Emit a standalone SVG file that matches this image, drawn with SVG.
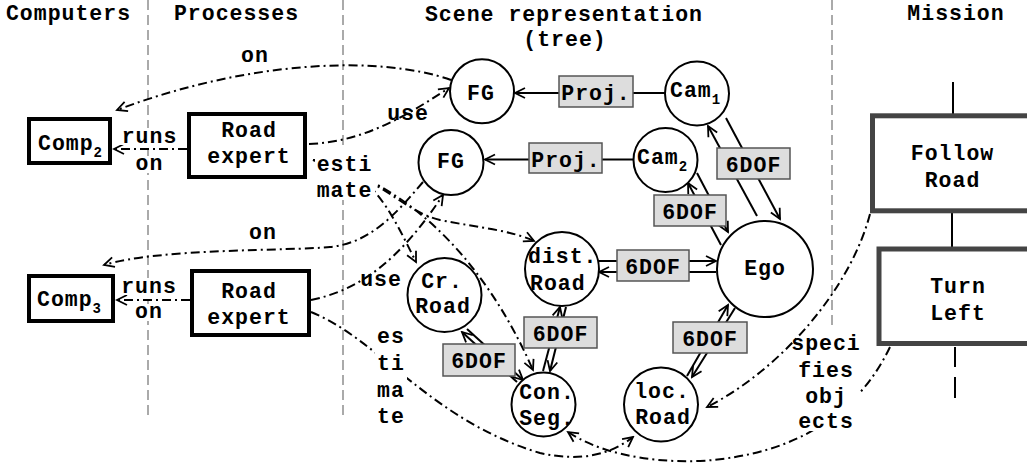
<svg xmlns="http://www.w3.org/2000/svg" width="1027" height="470" viewBox="0 0 1027 470">
<style>
.t{font-family:"Liberation Mono","Courier New",monospace;font-weight:bold;font-size:21.5px;letter-spacing:1px;fill:#000}
.m{text-anchor:middle}
.sub{font-size:14px;letter-spacing:0}
.node{fill:#fff;stroke:#000;stroke-width:2}
.box{fill:#fff;stroke:#000;stroke-width:4}
.mbox{fill:#fff;stroke:#444;stroke-width:5}
.lbl{fill:#ddd;stroke:#555;stroke-width:1.5}
.solid{fill:none;stroke:#000;stroke-width:2}
.dd{fill:none;stroke:#000;stroke-width:2;stroke-dasharray:9 4 2 4}
.div{stroke:#aaa;stroke-width:2;stroke-dasharray:10 5}
.bg{fill:#fff}
</style>
<defs>
<marker id="arr" markerUnits="userSpaceOnUse" markerWidth="14" markerHeight="14" viewBox="0 0 14 14" refX="12" refY="7" orient="auto">
<path d="M2,2 L12,7 L2,12" fill="none" stroke="#000" stroke-width="1.8" stroke-dasharray="none"/>
</marker>
</defs>
<rect width="1027" height="470" fill="#fff"/>
<g id="dividers">
<line class="div" x1="148" y1="0" x2="148" y2="415"/>
<line class="div" x1="343" y1="0" x2="343" y2="415"/>
<line class="div" x1="832" y1="0" x2="832" y2="330"/>
</g>
<g id="headers" class="t m">
<text x="68.5" y="20">Computers</text>
<text x="236.5" y="20">Processes</text>
<text x="564" y="21">Scene representation</text>
<text x="565" y="46">(tree)</text>
<text x="956" y="20">Mission</text>
</g>
<g id="connectors">
<!-- runs on -->
<path class="dd" d="M187,149 L114,149" marker-end="url(#arr)"/>
<path class="dd" d="M190,300 L117,300" marker-end="url(#arr)"/>
<!-- FG on computers -->
<path class="dd" d="M451,80 C380,55 250,60 117,110" marker-end="url(#arr)"/>
<path class="dd" d="M423,182 C395,215 370,243 330,247 S160,248 104,265" marker-end="url(#arr)"/>
<!-- use -->
<path class="dd" d="M309,144 C360,142 400,120 449,88" marker-end="url(#arr)"/>
<path class="dd" d="M311,300 C360,290 400,260 443,195" marker-end="url(#arr)"/>
<!-- estimate (top) -->
<path class="dd" d="M313,160 C370,165 390,210 416,262" marker-end="url(#arr)"/>
<path class="dd" d="M313,160 C400,180 480,250 533,370" marker-end="url(#arr)"/>
<path class="dd" d="M313,160 C380,175 400,210 440,220 C480,228 510,230 534,241" marker-end="url(#arr)"/>
<!-- estimate (bottom) -->
<path class="dd" d="M311,312 C380,340 430,420 540,453 C580,462 610,455 633,437" marker-end="url(#arr)"/>
<!-- specifies objects -->
<path class="dd" d="M870,214 C850,290 780,370 707,407" marker-end="url(#arr)"/>
<path class="dd" d="M890,347 C860,410 800,455 700,461 C640,463 595,450 568,432" marker-end="url(#arr)"/>
<!-- projections -->
<path class="solid" d="M665,93 L633,93"/>
<path class="solid" d="M559,93 L515,93" marker-end="url(#arr)"/>
<path class="solid" d="M634,159.5 L602,159.5"/>
<path class="solid" d="M529,159.5 L485,159.5" marker-end="url(#arr)"/>
<!-- 6DOF pairs -->
<path class="solid" d="M757,216 L708,126" marker-end="url(#arr)"/>
<path class="solid" d="M726,118 L780,219" marker-end="url(#arr)"/>
<path class="solid" d="M721,245 L688,183" marker-end="url(#arr)"/>
<path class="solid" d="M697,173 L728,232" marker-end="url(#arr)"/>
<path class="solid" d="M599,261 L716,261" marker-end="url(#arr)"/>
<path class="solid" d="M716,272 L599,272" marker-end="url(#arr)"/>
<path class="solid" d="M543,371 L560,307" marker-end="url(#arr)"/>
<path class="solid" d="M566,307 L550,371" marker-end="url(#arr)"/>
<path class="solid" d="M517,382 L462,332" marker-end="url(#arr)"/>
<path class="solid" d="M467,329 L523,380" marker-end="url(#arr)"/>
<path class="solid" d="M687,376 L728,305" marker-end="url(#arr)"/>
<path class="solid" d="M735,308 L692,377" marker-end="url(#arr)"/>
<!-- mission tree lines -->
<path class="solid" d="M953,82 V114 M952,213 V247 M955,347 V367 M955,377 V398"/>
</g>
<g id="connector-labels" class="t m">
<rect class="bg" x="120" y="128" width="60" height="17"/>
<rect class="bg" x="134" y="156" width="32" height="17"/>
<rect class="bg" x="120" y="278" width="60" height="17"/>
<rect class="bg" x="134" y="304" width="32" height="17"/>
<rect class="bg" x="315" y="148" width="60" height="52"/>
<rect class="bg" x="375" y="327" width="32" height="100"/>
<rect class="bg" x="797" y="356" width="63" height="75"/>
<text x="149.5" y="143">runs</text>
<text x="149.5" y="170">on</text>
<text x="149" y="293">runs</text>
<text x="149" y="318">on</text>
<text x="255" y="62">on</text>
<text x="263" y="239">on</text>
<text x="408" y="120">use</text>
<text x="381" y="286">use</text>
<text x="344.5" y="171">esti</text>
<text x="344.5" y="197">mate</text>
<text x="391" y="343">es</text>
<text x="391" y="370">ti</text>
<text x="391" y="397">ma</text>
<text x="391" y="423">te</text>
<text x="826" y="350">speci</text>
<text x="826" y="377">fies</text>
<text x="826" y="403">obj</text>
<text x="826" y="428">ects</text>
</g>
<g id="comp2"><rect class="box" x="29" y="119" width="81" height="44"/><text class="t" x="38" y="150">Comp<tspan class="sub" dy="7">2</tspan></text></g>
<g id="comp3"><rect class="box" x="29" y="276" width="84" height="45"/><text class="t" x="37" y="306">Comp<tspan class="sub" dy="7">3</tspan></text></g>
<g id="roadexpert1"><rect class="box" x="189" y="114" width="116" height="63"/><text class="t m" x="249" y="137">Road</text><text class="t m" x="249" y="163">expert</text></g>
<g id="roadexpert2"><rect class="box" x="192" y="271" width="117" height="64"/><text class="t m" x="249" y="298">Road</text><text class="t m" x="249" y="324">expert</text></g>
<g id="fg1"><circle class="node" cx="482" cy="91.3" r="32"/><text class="t m" x="481" y="100">FG</text></g>
<g id="fg2"><circle class="node" cx="451" cy="162.5" r="32.5"/><text class="t m" x="451" y="168">FG</text></g>
<g id="cam1"><circle class="node" cx="697" cy="93.5" r="32"/><text class="t" x="670" y="97">Cam<tspan class="sub" dy="7">1</tspan></text></g>
<g id="cam2"><circle class="node" cx="665.5" cy="160" r="32"/><text class="t" x="637" y="163.5">Cam<tspan class="sub" dy="7">2</tspan></text></g>
<g id="ego"><circle class="node" cx="765" cy="269" r="48"/><text class="t m" x="765" y="275">Ego</text></g>
<g id="distroad"><circle class="node" cx="562" cy="269" r="37"/><text class="t" x="528" y="263">dist.</text><text class="t" x="530" y="290">Road</text></g>
<g id="crroad"><circle class="node" cx="444.5" cy="295" r="37"/><text class="t m" x="442" y="288">Cr.</text><text class="t m" x="443" y="313">Road</text></g>
<g id="conseg"><circle class="node" cx="543.5" cy="404.5" r="32"/><text class="t m" x="547" y="399">Con.</text><text class="t m" x="547" y="425">Seg.</text></g>
<g id="locroad"><circle class="node" cx="661" cy="404.5" r="37"/><text class="t m" x="662" y="398">loc.</text><text class="t m" x="663" y="424">Road</text></g>
<g id="proj1"><rect class="lbl" x="559" y="76" width="74" height="31"/><text class="t m" x="596" y="100">Proj.</text></g>
<g id="proj2"><rect class="lbl" x="529" y="143" width="73" height="30"/><text class="t m" x="566" y="167">Proj.</text></g>
<g id="dof-cam1"><rect class="lbl" x="717" y="148" width="73" height="31"/><text class="t m" x="753.5" y="172">6DOF</text></g>
<g id="dof-cam2"><rect class="lbl" x="654" y="195" width="72" height="31"/><text class="t m" x="690" y="219">6DOF</text></g>
<g id="dof-dist"><rect class="lbl" x="617" y="250" width="72" height="31"/><text class="t m" x="653" y="274">6DOF</text></g>
<g id="dof-con"><rect class="lbl" x="524" y="317" width="73" height="31"/><text class="t m" x="560.5" y="341">6DOF</text></g>
<g id="dof-cr"><rect class="lbl" x="443" y="344" width="72" height="32"/><text class="t m" x="479" y="368">6DOF</text></g>
<g id="dof-loc"><rect class="lbl" x="673" y="322" width="74" height="31"/><text class="t m" x="710" y="346">6DOF</text></g>
<g id="followroad"><rect class="mbox" x="872.5" y="115.8" width="165" height="95"/><text class="t m" x="952.5" y="160">Follow</text><text class="t m" x="952.5" y="187">Road</text></g>
<g id="turnleft"><rect class="mbox" x="879" y="249" width="165" height="94.5"/><text class="t m" x="958" y="293">Turn</text><text class="t m" x="958" y="320">Left</text></g>
</svg>
